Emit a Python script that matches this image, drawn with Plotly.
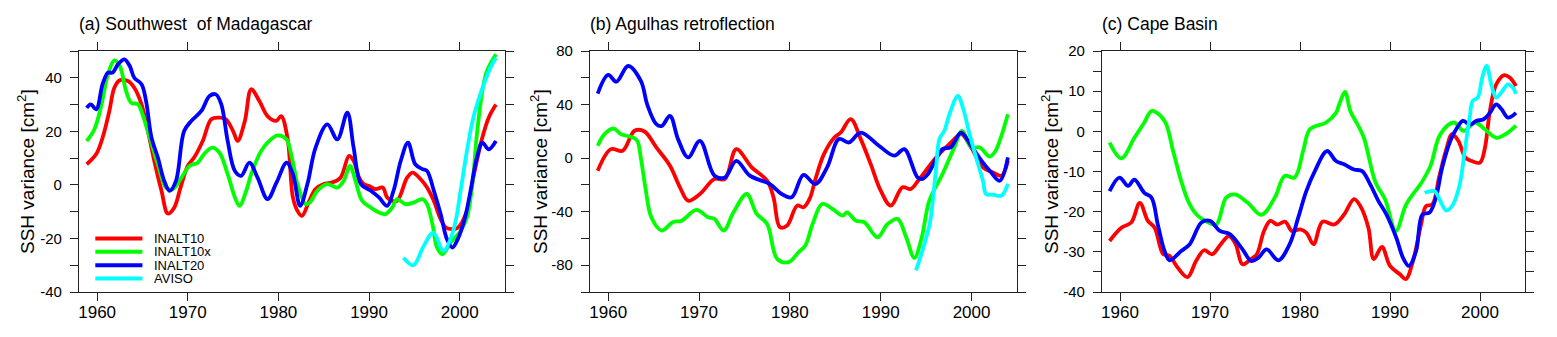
import plotly.graph_objects as go

# ---- data ----
SERIES = ["INALT10", "INALT10x", "INALT20", "AVISO"]
COLORS = ["#ff0000", "#00ff00", "#0000ff", "#00ffff"]

PANEL_TITLES = ["(a) Southwest&nbsp; of Madagascar", "(b) Agulhas retroflection", "(c) Cape Basin"]
Y_TITLE = "SSH variance [cm<sup>2</sup>]"

X_TICKS = [1960, 1970, 1980, 1990, 2000]

A_Y_TICKS = [-40, -20, 0, 20, 40]
B_Y_TICKS = [-80, -40, 0, 40, 80]
C_Y_TICKS = [-40, -30, -20, -10, 0, 10, 20]

# (year, value) pairs, panel (a) Southwest of Madagascar
A_INALT10 = [
    (1958.85, 7.7), (1959.9, 11.5), (1960.6, 17.6), (1961.35, 27.6), (1961.9, 36.3), (1962.5, 39.1),
    (1963.4, 38.8), (1964.1, 36.3), (1964.9, 30.1), (1965.6, 20.1), (1966.3, 9), (1967.1, -2.2),
    (1967.8, -10.7), (1968.5, -8.5), (1969.2, -1), (1970, 7.1), (1970.7, 10.2), (1971.65, 16.4),
    (1972.6, 24.5), (1973.5, 25.1), (1974.2, 24.5), (1975, 20.1), (1975.5, 16.4), (1976.3, 23.9),
    (1977, 35.7), (1977.9, 31.3), (1978.8, 25.7), (1979.75, 23.9), (1980.3, 25.7), (1981, 17.6),
    (1981.6, -4.7), (1982.1, -9.7), (1982.6, -11.6), (1983.4, -6), (1984.1, -1.6), (1985, 0.3),
    (1985.9, 0.9), (1986.85, 2.7), (1987.8, 10.8), (1988.3, 9), (1988.9, 2.7), (1989.4, 0.3),
    (1990, -0.4), (1990.7, -1.6), (1991.5, -1), (1992, -4.7), (1992.6, -6), (1993.1, -6),
    (1993.5, -3.5), (1994.2, 2.7), (1994.8, 4.6), (1995.7, 2.1), (1996.4, -1), (1997.15, -6),
    (1997.9, -12.8), (1998.5, -16), (1999.2, -16.5), (1999.8, -16), (2000.8, -9.7), (2001.5, 2.7),
    (2002.5, 17.7), (2003.2, 25.1), (2004, 30),
]
A_INALT10X = [
    (1958.85, 16.4), (1959.7, 20.8), (1960.4, 28.8), (1961.2, 41.3), (1961.9, 46.5), (1962.5, 44.4),
    (1963.2, 35), (1963.75, 30.7), (1964.5, 30.1), (1965, 26.4), (1965.8, 17.6), (1966.7, 7.7),
    (1967.6, -1), (1968.35, -1.6), (1969.3, 2.7), (1970.2, 7.1), (1971.1, 8.3), (1971.8, 11.5),
    (1972.7, 13.9), (1973.5, 12), (1974.4, 4), (1975.2, -4.7), (1975.7, -7.8), (1976.45, -2.2),
    (1977, 4), (1978.1, 12.7), (1979, 16.4), (1979.9, 18.5), (1980.9, 17), (1981.3, 13),
    (1981.8, 5), (1982.1, 0.3), (1983, -7.2), (1983.5, -6.5), (1984.3, -2.2), (1985.4, 0.3),
    (1986.5, -1), (1987.2, 1.5), (1987.9, 7.1), (1988.5, 1.5), (1989.25, -6), (1990.2, -8.5),
    (1991.1, -10.3), (1991.8, -10.9), (1992.55, -8.5), (1993.1, -5.3), (1994, -7.2), (1994.9, -6.6),
    (1995.9, -5.3), (1996.4, -7.2), (1997, -14.7), (1997.5, -23.4), (1998.1, -25.9), (1999, -21.5),
    (2000.1, -17.2), (2000.8, -12.2), (2001.4, 0.3), (2001.9, 18.9), (2002.5, 35), (2003, 42.5),
    (2004, 48.8),
]
A_INALT20 = [
    (1958.85, 28.8), (1959.3, 30.1), (1959.9, 28.2), (1960.6, 37.6), (1961.2, 41.9), (1961.7, 41.9),
    (1962.3, 45), (1963, 46.9), (1963.6, 44.4), (1964.1, 40), (1964.9, 37.6), (1965.4, 31.3),
    (1966, 17.6), (1966.7, 10.2), (1967.4, 1.5), (1968, -2.2), (1968.7, 1.5), (1969.6, 20.1),
    (1970.4, 23.9), (1971.5, 27.6), (1972.4, 33.2), (1973.1, 33.8), (1973.7, 30.1), (1974.4, 16.4),
    (1975.2, 5.2), (1975.9, 3.4), (1976.8, 8.3), (1977.7, 2.7), (1978.8, -5.3), (1979.8, 0.9),
    (1980.9, 8.3), (1981.6, 4), (1982.4, -7.8), (1983.2, 0.3), (1984.1, 13.9), (1985.4, 22.6),
    (1986.5, 17), (1987.6, 27), (1988.3, 13.9), (1989.1, 0.3), (1990.2, -2.2), (1991.1, -4.7),
    (1992, -7.8), (1992.7, -2.2), (1993.5, 9), (1994.3, 15.8), (1995.1, 7.7), (1995.9, 5.9),
    (1996.4, 5.2), (1997.15, -2.2), (1997.9, -10.9), (1998.6, -20.3), (1999.2, -23.4), (1999.7, -20.9),
    (2000.5, -13.4), (2001.2, -2.2), (2001.9, 10.2), (2002.5, 15.8), (2003.2, 13.3), (2004, 16.4),
]
A_AVISO = [
    (1993.8, -27.2), (1994.9, -30), (1996, -23), (1997.1, -17.8), (1998.2, -24.6), (1999.3, -17),
    (2000.1, -2.2), (2000.8, 12.7), (2001.5, 25), (2002.5, 36), (2003.4, 43.8), (2004, 47.5),
]

# panel (b) Agulhas retroflection
B_INALT10 = [
    (1958.85, -9.4), (1960.3, 6.7), (1961.6, 5.5), (1962.9, 20.4), (1964, 19.9), (1965.3, 8),
    (1966.8, -5.7), (1967.9, -21.8), (1968.8, -31.8), (1970.1, -26.8), (1971.7, -15.6), (1972.85, -15.6),
    (1974.1, 6.7), (1975.8, -6.9), (1977.5, -16.9), (1978.2, -29.3), (1978.9, -51.6), (1979.7, -50.4),
    (1980.8, -35.5), (1981.5, -36.7), (1982.2, -30), (1982.8, -16), (1983.75, 3), (1984.9, 15.4),
    (1985.6, 19.1), (1986.7, 29.1), (1987.8, 14.2), (1988.9, -4.5), (1990, -24.3), (1991.1, -35.5),
    (1992.4, -21.8), (1993.3, -23.1), (1994.25, -15.6), (1996.1, 0.5), (1997.75, 11.7), (1998.85, 17.9),
    (1999.95, 8), (2001.25, -6.9), (2002.35, -10.7), (2003.3, -13.1), (2004, -2),
]
B_INALT10X = [
    (1958.85, 9.2), (1959.6, 17.9), (1960.6, 22.1), (1961.4, 17.9), (1962.7, 15.4), (1963.2, 13),
    (1963.6, 0), (1964.1, -22), (1964.75, -44.2), (1965.9, -54.1), (1967.1, -47.9), (1968.1, -46.7),
    (1969.7, -38.7), (1971, -44.2), (1971.7, -45.4), (1972.7, -54.1), (1973.8, -40.5), (1975.25, -26.8),
    (1976.35, -41.7), (1977.5, -49.2), (1978.6, -75.2), (1979.85, -77.7), (1980.95, -70.3), (1981.7, -65.3),
    (1982.5, -49.2), (1983.55, -34.3), (1984.7, -38), (1985.8, -43), (1986.3, -40.5), (1987.25, -46.7),
    (1988.2, -47.9), (1989.65, -59.1), (1990.75, -49.2), (1991.85, -45.4), (1992.8, -59.1), (1993.7, -74.5),
    (1994.5, -59.6), (1995.35, -31.8), (1996.8, -11.9), (1998.1, 8), (1998.95, 20.4), (1999.95, 8),
    (2000.9, 8), (2002, 1.2), (2002.6, 5), (2003.2, 15), (2004, 32.8),
]
B_INALT20 = [
    (1958.85, 48.2), (1960, 62.1), (1960.9, 57.1), (1962.2, 68.8), (1963.6, 57.6), (1964.3, 40),
    (1965.3, 25.4), (1965.9, 24), (1966.8, 31.6), (1967.7, 14), (1968.8, 0.5), (1970.1, 12.9),
    (1971.7, -13.1), (1972.85, -14.4), (1974.1, -2), (1975.6, -13.1), (1977.8, -19.4), (1979.1, -26.8),
    (1980.2, -29.3), (1981.5, -12.5), (1982.8, -19.4), (1984.1, -6.9), (1985.4, 14.2), (1986.5, 11.7),
    (1987.8, 19.1), (1989.8, 9.2), (1991.5, 1.8), (1992.6, 6.7), (1994.05, -14.4), (1994.6, -15.5),
    (1995.2, -11.9), (1996.8, 6.7), (1997.7, 8), (1998.85, 19.1), (1999.95, 9.2), (2001.1, -2),
    (2002, -9.4), (2003.1, -16.9), (2004, 0.5),
]
B_AVISO = [
    (1993.88, -83.9), (1994.6, -69), (1995.4, -49), (1995.7, -34), (1996.1, -7), (1996.46, 14.2),
    (1997, 20.4), (1997.57, 32.8), (1998.49, 46.5), (1999.04, 37.8), (1999.78, 17.9), (2000.5, 0.5),
    (2001.25, -16.9), (2001.6, -26.8), (2002.35, -27.3), (2003.3, -28), (2004, -19.3),
]

# panel (c) Cape Basin
C_INALT10 = [
    (1958.84, -27.3), (1960.15, -24), (1961.25, -22.7), (1962.2, -17.8), (1963.1, -22.3), (1963.85, -24),
    (1964.8, -30.6), (1965.5, -31), (1966.4, -33.9), (1967.5, -36.3), (1968.45, -32.3), (1969.35, -29.6),
    (1970.25, -30.6), (1971.2, -28.1), (1972.1, -26.1), (1972.85, -28.1), (1973.6, -33.1), (1974.5, -31.9),
    (1975.2, -30.6), (1976, -24.8), (1976.7, -22.3), (1977.45, -23.2), (1978.35, -22.5), (1979.1, -24.8),
    (1980, -24.4), (1980.7, -25.2), (1981.5, -28.1), (1982.5, -22.5), (1983.8, -23.2), (1984.9, -20.7),
    (1986, -16.9), (1986.7, -18.6), (1987.6, -24), (1988.2, -31.8), (1989.1, -28.8), (1990, -33.5),
    (1991.1, -35.6), (1991.75, -36.8), (1992.55, -32.3), (1993.45, -23.2), (1994, -18.6), (1994.7, -18.2),
    (1995.45, -11.5), (1996.2, -4.9), (1996.9, -0.7), (1997.6, -2.4), (1998.4, -6.6), (1999.1, -7.4),
    (2000, -7.8), (2000.55, -4.1), (2001.1, 5.1), (2001.8, 11.7), (2002.7, 14), (2003.3, 13.4),
    (2004, 11.3),
]
C_INALT10X = [
    (1958.84, -2.8), (1960.15, -6.7), (1961.6, -1.6), (1962.7, 2.2), (1963.55, 5.1), (1964.95, 2.6),
    (1965.9, -4.9), (1966.8, -12.4), (1967.6, -17.5), (1968.5, -20.7), (1969.8, -22.7), (1970.7, -23.2),
    (1971.8, -16.5), (1972.75, -15.7), (1974.2, -17.8), (1975.7, -20.8), (1977.2, -16.5), (1978.3, -11.1),
    (1979.4, -11.5), (1980.35, -4.9), (1981.1, 0.5), (1982.9, 2.2), (1984, 4.6), (1984.4, 7),
    (1985, 9.8), (1985.6, 5), (1986.4, 1.7), (1987.1, -1.6), (1988.4, -12.8), (1989.45, -16.9),
    (1990.65, -24.8), (1991.8, -18.2), (1993.6, -12.4), (1994.5, -8.6), (1995.6, -0.7), (1997.1, 2.2),
    (1998.2, 0.1), (1999.45, 2.2), (2000.55, 0.5), (2001.8, -1.6), (2003.1, -0.3), (2004, 1.4),
]
C_INALT20 = [
    (1958.84, -14.9), (1959.95, -11.5), (1960.9, -13.6), (1961.6, -12), (1962.7, -15.3), (1963.5, -16.5),
    (1964.2, -23.2), (1964.95, -29.8), (1965.5, -32.1), (1966.8, -29.8), (1967.75, -28.1), (1969.05, -22.7),
    (1970, -22.3), (1971.1, -24.8), (1972.2, -25.6), (1973.5, -29), (1974.6, -32.3), (1975.35, -31.5),
    (1976.3, -29.4), (1977.6, -32.1), (1978.85, -28.1), (1979.8, -21.5), (1980.7, -14.9), (1981.65, -9.9),
    (1983, -4.9), (1984, -7.4), (1984.9, -8.2), (1986, -9.5), (1986.9, -9.9), (1987.8, -13.2),
    (1988.7, -17.3), (1989.6, -20.7), (1990.7, -26.5), (1991.45, -31.5), (1992.1, -33.5), (1992.9, -29.8),
    (1993.6, -20.7), (1994.4, -20.2), (1995.1, -16.5), (1995.8, -9), (1996.7, -2.4), (1997.45, 0.9),
    (1998.1, 2.6), (1998.9, 1.7), (1999.6, 2.6), (2000.4, 3), (2001.1, 4.6), (2001.8, 6.7),
    (2002.4, 5.5), (2003.1, 3.4), (2004, 4.6),
]
C_AVISO = [
    (1993.85, -15.3), (1994.95, -14.9), (1995.5, -16.9), (1996.25, -19.7), (1997, -18.2), (1997.75, -13.2),
    (1998.3, -4.9), (1998.85, 3.4), (1999.2, 7.6), (1999.75, 8.4), (2000.25, 13.4), (2000.75, 16.3),
    (2001.25, 11.7), (2001.8, 8.4), (2002.35, 9.6), (2003.1, 11.7), (2003.65, 10.9), (2004, 9.3),
]

PANELS = [
    [A_INALT10, A_INALT10X, A_INALT20, A_AVISO],
    [B_INALT10, B_INALT10X, B_INALT20, B_AVISO],
    [C_INALT10, C_INALT10X, C_INALT20, C_AVISO],
]

# ---- layout geometry ----
W, H = 1557, 337
FONT = "Liberation Sans, Arial, Helvetica, sans-serif"
X_DOMAINS = [(79 / W, 505 / W), (590 / W, 1017 / W), (1102 / W, 1525 / W)]
Y_DOMAIN = (1 - 292 / H, 1 - 51 / H)
Y_RANGES = [(-40, 50), (-100, 80), (-40, 20)]
Y_TICK_LISTS = [A_Y_TICKS, B_Y_TICKS, C_Y_TICKS]
Y_MINOR = [10, 20, 5]
YTITLE_X = [26 / W, 539 / W, 1050 / W]

fig = go.Figure()

for p, series_list in enumerate(PANELS):
    ax = "" if p == 0 else str(p + 1)
    for name, color, pts in zip(SERIES, COLORS, series_list):
        xs = [pt[0] for pt in pts]
        ys = [pt[1] for pt in pts]
        fig.add_trace(go.Scatter(
            x=xs, y=ys, mode="lines", name=name, showlegend=False,
            line=dict(color=color, width=3.8, shape="spline", smoothing=1.0),
            xaxis="x" + ax, yaxis="y" + ax,
        ))

axis_common = dict(
    showgrid=False, zeroline=False, showline=True, linecolor="#222", linewidth=1.2,
    mirror="ticks", ticks="outside", ticklen=8, tickwidth=1.2, tickcolor="#222",
    automargin=False,
)

layout = dict(
    template="none",
    width=W, height=H, margin=dict(l=0, r=0, t=0, b=0, pad=0, autoexpand=False),
    paper_bgcolor="white", plot_bgcolor="white", showlegend=False,
    font=dict(family=FONT, color="black"),
)

annotations = []
shapes = []
for p in range(3):
    ax = "" if p == 0 else str(p + 1)
    layout["xaxis" + ax] = dict(
        axis_common, domain=list(X_DOMAINS[p]), range=[1958, 2005],
        tickvals=X_TICKS, ticktext=[str(t) for t in X_TICKS],
        ticklabelstandoff=-4, tickfont=dict(family=FONT, size=17, color="black"),
        anchor="y" + ax,
    )
    layout["yaxis" + ax] = dict(
        axis_common, domain=list(Y_DOMAIN), range=list(Y_RANGES[p]),
        tickvals=Y_TICK_LISTS[p], ticktext=[str(t) for t in Y_TICK_LISTS[p]],
        ticklabelstandoff=5, tickfont=dict(family=FONT, size=15, color="black"),
        minor=dict(dtick=Y_MINOR[p], tick0=0, ticks="outside", ticklen=8,
                   tickwidth=1.2, tickcolor="#222", showgrid=False),
        anchor="x" + ax,
    )
    annotations.append(dict(
        text=PANEL_TITLES[p], xref="paper", yref="paper",
        x=X_DOMAINS[p][0] - 2 / W, y=1 - 24 / H, xanchor="left", yanchor="middle",
        showarrow=False, font=dict(family=FONT, size=17.5, color="black"),
    ))
    annotations.append(dict(
        text=Y_TITLE, xref="paper", yref="paper", textangle=-90,
        x=YTITLE_X[p], y=1 - 172 / H, xanchor="center", yanchor="middle",
        showarrow=False, font=dict(family=FONT, size=19, color="black"),
    ))

# legend drawn inside panel (a), lower left
LEG_Y = [-20, -25, -30, -35]
for name, color, ly in zip(SERIES, COLORS, LEG_Y):
    shapes.append(dict(type="line", xref="x", yref="y", x0=1959.8, x1=1965.0, y0=ly, y1=ly,
                       line=dict(color=color, width=4)))
    annotations.append(dict(text=name, xref="x", yref="y", x=1966.0, y=ly,
                            xanchor="left", yanchor="middle", showarrow=False,
                            font=dict(family=FONT, size=13, color="black")))

layout["annotations"] = annotations
layout["shapes"] = shapes
fig.update_layout(**layout)

# the page body has a default 8px margin; drop it so the figure sits at the top-left corner
fig.write_html(
    "out.html",
    config={"displayModeBar": False},
    post_script="document.body.style.margin='0';document.body.style.overflow='hidden';",
)
